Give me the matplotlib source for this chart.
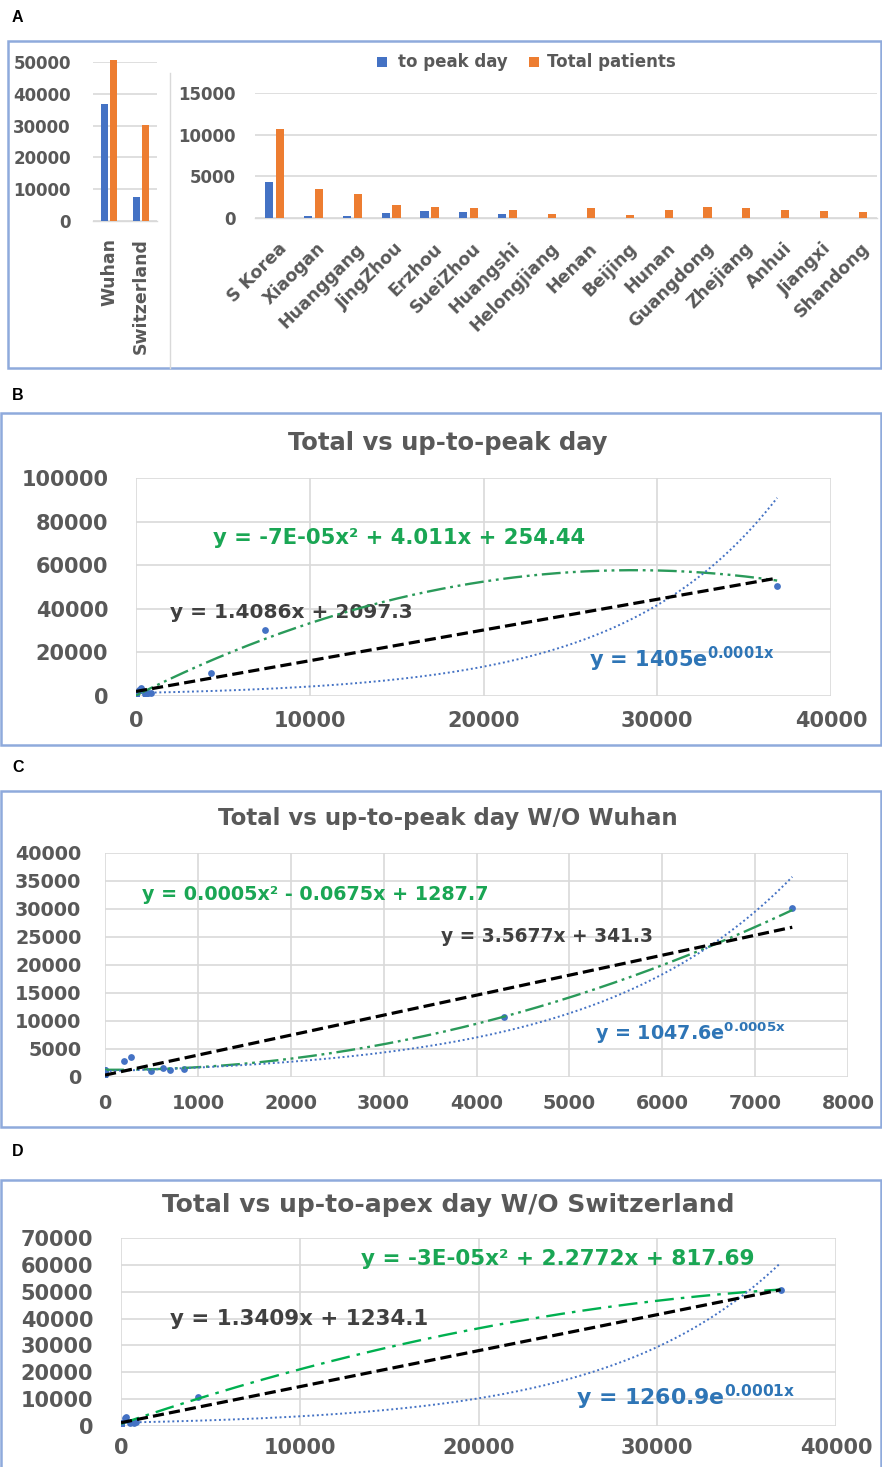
import numpy as np
import matplotlib
matplotlib.use('Agg')
import matplotlib.pyplot as plt
import matplotlib.transforms as mtransforms
from matplotlib.patches import Rectangle
from matplotlib.lines import Line2D

plt.rcParams['font.family'] = ['DejaVu Sans']

W, H = 882, 1467
fig = plt.figure(figsize=(W / 100, H / 100), dpi=100)


def rect(l, t, r, b):
    return [l / W, 1 - b / H, (r - l) / W, (b - t) / H]


# ---------------- data ----------------
big_regions = ['Wuhan', 'Switzerland']
big_to_peak = [36900, 7400]
big_total = [50500, 30200]

small_regions = ['S Korea', 'Xiaogan', 'Huanggang', 'JingZhou', 'Erzhou', 'SueiZhou',
                 'Huangshi', 'Helongjiang', 'Henan', 'Beijing', 'Hunan', 'Guangdong',
                 'Zhejiang', 'Anhui', 'Jiangxi', 'Shandong']
small_to_peak = [4300, 280, 200, 620, 850, 700, 500, 0, 0, 0, 0, 0, 0, 0, 0, 0]
small_total = [10700, 3500, 2900, 1600, 1350, 1250, 1000, 450, 1250, 400, 1000,
               1300, 1220, 990, 900, 720]

series_names = ['to peak day', 'Total patients']

# trendline coefficients (linear: a, b ; quadratic: a, b, c ; exponential: A, k)
lin_B = [1.4086, 2097.3]
quad_B = [-7e-05, 4.011, 254.44]
exp_B = [1405, 0.000113]
lin_C = [3.5677, 341.3]
quad_C = [0.00053, -0.0675, 1287.7]
exp_C = [1047.6, 0.000477]
lin_D = [1.3409, 1234.1]
quad_D = [-2.5e-05, 2.2772, 817.69]
exp_D = [1260.9, 0.000105]

labels_B = ['y = 1.4086x + 2097.3', 'y = -7E-05x² + 4.011x + 254.44',
            r'y = 1405e$^{\mathbf{0.0001x}}$']
labels_C = ['y = 3.5677x + 341.3', 'y = 0.0005x² - 0.0675x + 1287.7',
            r'y = 1047.6e$^{\mathbf{0.0005x}}$']
labels_D = ['y = 1.3409x + 1234.1', 'y = -3E-05x² + 2.2772x + 817.69',
            r'y = 1260.9e$^{\mathbf{0.0001x}}$']

# ---------------- styles ----------------
BLUE = '#4472C4'
ORANGE = '#ED7D31'
GRID = '#D9D9D9'
TXT = '#595959'
BOX = '#8FAADC'


def fig_box(l, t, r, b):
    fig.add_artist(Rectangle((l / W, 1 - b / H), (r - l) / W, (b - t) / H,
                             transform=fig.transFigure, fill=False, ec=BOX, lw=1.8))


def style_axes(ax):
    for s in ax.spines.values():
        s.set_color(GRID)
        s.set_linewidth(1.0)
    ax.tick_params(length=0, colors=TXT)
    for lab in ax.get_xticklabels() + ax.get_yticklabels():
        lab.set_fontweight('bold')
        lab.set_color(TXT)


# panel letters
for letter, y in [('A', 18), ('B', 395), ('C', 767), ('D', 1152)]:
    fig.text(12 / W, 1 - y / H, letter, fontsize=11.5, fontweight='bold',
             family='Liberation Sans', ha='left', va='center')

# ---------------- Panel A ----------------
fig_box(8, 41, 881, 368)
fig.add_artist(Line2D([170 / W, 170 / W], [1 - 73 / H, 1 - 368 / H],
                      transform=fig.transFigure, color=GRID, lw=1.0))

bw = 0.23
off = 0.14
axL = fig.add_axes(rect(93, 62, 157, 221))
xl = np.arange(len(big_regions))
axL.bar(xl - off, big_to_peak, bw, color=BLUE, clip_on=False, zorder=3)
axL.bar(xl + off, big_total, bw, color=ORANGE, clip_on=False, zorder=3)
axL.set_xlim(-0.5, len(big_regions) - 0.5)
axL.set_ylim(0, 50000)
axL.set_yticks(np.arange(0, 50001, 10000))
axL.set_xticks(xl)
axL.set_xticklabels(big_regions, rotation=90, fontsize=12.5)
axL.yaxis.grid(True, color=GRID, lw=1.2)
axL.set_axisbelow(True)
for s in ['top', 'right', 'left']:
    axL.spines[s].set_visible(False)
axL.tick_params(axis='y', labelsize=12, pad=16)
axL.tick_params(axis='x', pad=12)
style_axes(axL)

axR = fig.add_axes(rect(255, 93, 877, 218))
xr = np.arange(len(small_regions))
axR.bar(xr - off, small_to_peak, bw * 0.9, color=BLUE, zorder=3)
axR.bar(xr + off, small_total, bw * 0.9, color=ORANGE, zorder=3)
axR.set_xlim(-0.5, len(small_regions) - 0.5)
axR.set_ylim(0, 15000)
axR.set_yticks(np.arange(0, 15001, 5000))
axR.set_xticks(xr)
axR.set_xticklabels(small_regions, rotation=45, ha='right', rotation_mode='anchor',
                    fontsize=12.5)
axR.yaxis.grid(True, color=GRID, lw=1.2)
axR.set_axisbelow(True)
for s in ['top', 'right', 'left']:
    axR.spines[s].set_visible(False)
axR.tick_params(axis='y', labelsize=12, pad=14)
axR.tick_params(axis='x', pad=6)
style_axes(axR)
shift = mtransforms.ScaledTranslation(3 / 100, -13 / 100, fig.dpi_scale_trans)
for lab in axR.get_xticklabels():
    lab.set_transform(lab.get_transform() + shift)

# legend (manual)
fig.add_artist(Rectangle((377 / W, 1 - 67 / H), 10 / W, 10 / H, transform=fig.transFigure,
                         fc=BLUE, ec='none'))
fig.text(398 / W, 1 - 62 / H, series_names[0], fontsize=12, fontweight='bold', color=TXT,
         ha='left', va='center')
fig.add_artist(Rectangle((529 / W, 1 - 67 / H), 10 / W, 10 / H, transform=fig.transFigure,
                         fc=ORANGE, ec='none'))
fig.text(547 / W, 1 - 62 / H, series_names[1], fontsize=12, fontweight='bold', color=TXT,
         ha='left', va='center')


# ---------------- scatter panels ----------------
def scatter_panel(box, title, title_y, title_fs, axrect, xs, ys, xlim, xstep, ylim, ystep,
                  lin, quad, expo, labels, label_pos, label_fs, quad_color, quad_style,
                  tick_fs, ypad, xpad):
    fig_box(*box)
    fig.text(448 / W, 1 - title_y / H, title, fontsize=title_fs, fontweight='bold',
             color=TXT, ha='center', va='center')
    ax = fig.add_axes(axrect)
    ax.set_xlim(0, xlim)
    ax.set_ylim(0, ylim)
    ax.set_xticks(np.arange(0, xlim + 1, xstep))
    ax.set_yticks(np.arange(0, ylim + 1, ystep))
    ax.grid(True, color=GRID, lw=1.2)
    ax.set_axisbelow(True)
    ax.tick_params(axis='both', labelsize=tick_fs)
    ax.tick_params(axis='y', pad=ypad)
    ax.tick_params(axis='x', pad=xpad)
    style_axes(ax)
    for s in ax.spines.values():
        s.set_visible(False)

    xs = np.asarray(xs, float)
    ys = np.asarray(ys, float)
    ax.scatter(xs, ys, s=24, color=BLUE, zorder=3, linewidths=0)
    xx = np.linspace(0, xs.max(), 400)
    ax.plot(xx, quad[0] * xx ** 2 + quad[1] * xx + quad[2], color=quad_color,
            lw=1.7, linestyle=quad_style, zorder=4)
    ax.plot(xx, expo[0] * np.exp(expo[1] * xx), color=BLUE, lw=1.4,
            linestyle=(0, (1, 1.4)), zorder=4)
    ax.plot(xx, lin[0] * xx + lin[1], color='black', lw=2.3,
            linestyle=(0, (3.5, 1.6)), zorder=5)

    (lx, ly), (qx, qy), (ex, ey) = label_pos
    ax.text(lx, ly, labels[0], fontsize=label_fs[0], color='#404040', fontweight='semibold',
            ha='left', va='center')
    ax.text(qx, qy, labels[1], fontsize=label_fs[1], color='#1AA654', fontweight='bold',
            ha='left', va='center')
    ax.text(ex, ey, labels[2], fontsize=label_fs[2], color='#2E75B6', fontweight='bold',
            ha='left', va='center')
    return ax


# Panel B: all regions
xB = big_to_peak + small_to_peak
yB = big_total + small_total
scatter_panel((1, 413, 881, 745), 'Total vs up-to-peak day', 443, 17.5,
              rect(136, 478, 831, 696), xB, yB, 40000, 10000, 100000, 20000,
              lin_B, quad_B, exp_B, labels_B,
              [(1960, 38500), (4430, 72500), (26070, 17000)], (14.5, 15.2, 15),
              '#2A9A5A', (0, (8, 2, 1.2, 2, 1.2, 2)), 15, 20, 11)

# Panel C: without Wuhan
xC = big_to_peak[1:] + small_to_peak
yC = big_total[1:] + small_total
scatter_panel((1, 791, 881, 1127), 'Total vs up-to-peak day W/O Wuhan', 819, 16.5,
              rect(105, 853, 848, 1077), xC, yC, 8000, 1000, 40000, 5000,
              lin_C, quad_C, exp_C, labels_C,
              [(3620, 25000), (400, 32500), (5280, 7860)], (13.4, 13.8, 13.8),
              '#2A9A5A', (0, (8, 2, 1.2, 2, 1.2, 2)), 13.8, 17, 12)

# Panel D: without Switzerland
xD = big_to_peak[:1] + small_to_peak
yD = big_total[:1] + small_total
scatter_panel((1, 1180, 881, 1480), 'Total vs up-to-apex day W/O Switzerland', 1205, 18,
              rect(121, 1238, 836, 1426), xD, yD, 40000, 10000, 70000, 10000,
              lin_D, quad_D, exp_D, labels_D,
              [(2740, 39800), (13430, 62200), (25450, 10800)], (15.4, 15.5, 15.8),
              '#00B050', (0, (8, 3, 1.5, 3)), 15, 20, 9)

fig.savefig('out.png', dpi=100)
